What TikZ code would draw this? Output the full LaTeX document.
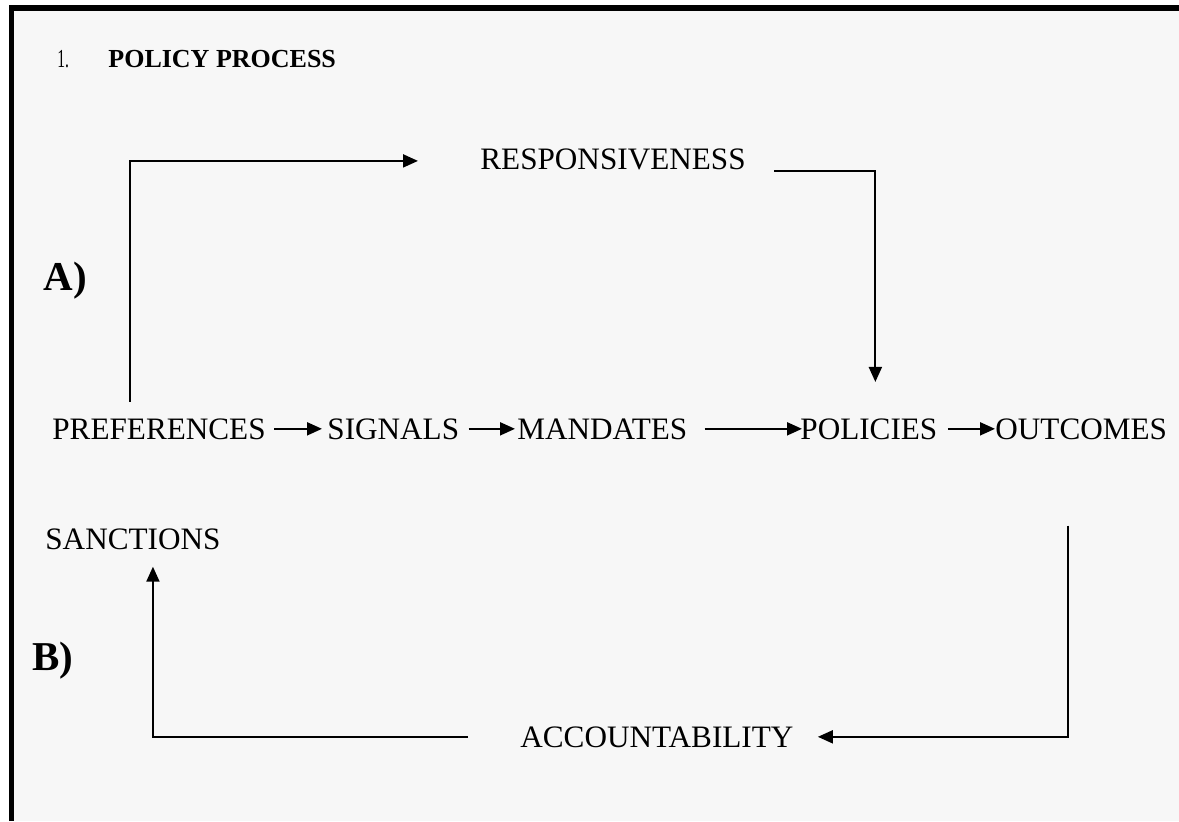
\documentclass[tikz,border=0pt]{standalone}
\usepackage{fontspec}
\setmainfont{Liberation Serif}
\usetikzlibrary{arrows.meta,positioning}
\definecolor{paper}{HTML}{F7F7F7}

\begin{document}
\begin{tikzpicture}[
x=0.5pt, y=-0.5pt,
Words/.style={anchor=base west, inner sep=0pt, font=\fontsize{15.6}{18}\selectfont},
Parts/.style={anchor=base west, inner sep=0pt, font=\fontsize{20.5}{24}\selectfont\bfseries},
Links/.style={-{Triangle[length=7.5pt,width=6.5pt]}, line width=1pt},
Frame/.style={line width=2.8pt}
]
\useasboundingbox (0,0) rectangle (1179,821);
\fill[white] (0,0) rectangle (1179,821);
\fill[paper] (10,6) rectangle (1179,821);

% frame, open at the right and at the bottom
\draw[Frame] (11.5,821) -- (11.5,8) -- (1179,8);

% heading
\node[anchor=base west, inner sep=0pt, font=\fontsize{13}{15}\selectfont] (num) at (57,67) {\scalebox{0.6}[1]{1.}};
\node[anchor=base west, inner sep=0pt, font=\fontsize{13}{15}\selectfont\bfseries] (title) at (108,67) {POLICY PROCESS};

\node[Parts] (partA) at (43,290) {A)};
\node[Parts] (partB) at (32,670) {B)};

% main chain
\node[Words] (pref) at (52,439) {PREFERENCES};
\node[Words] (sig)  at (327,439) {SIGNALS};
\node[Words] (mand) at (517,439) {MANDATES};
\node[Words] (pol)  at (800,439) {POLICIES};
\node[Words] (out)  at (995,439) {OUTCOMES};

\node[Words] (resp) at (480,169) {RESPONSIVENESS};
\node[Words] (sanc) at (45,549) {SANCTIONS};
\node[Words] (acc)  at (520,747) {ACCOUNTABILITY};

\draw[Links, shorten <=4pt, shorten >=2.5pt] (pref) -- (sig);
\draw[Links, shorten <=4.5pt, shorten >=1pt] (sig) -- (mand);
\draw[Links, shorten <=8.5pt, shorten >=-1pt] (mand) -- (pol);
\draw[Links, shorten <=5pt, shorten >=0pt] (pol) -- (out);

% A) loop
\draw[Links, shorten >=31pt] ([xshift=39pt,yshift=8pt]pref.north west) |- ([yshift=-1pt]resp.west);
\draw[Links, shorten >=18pt] ([xshift=14pt,yshift=-6pt]resp.east) -| ([xshift=3.25pt]pol.north);

% B) loop
\draw[Links, shorten >=12pt] ([xshift=-6.75pt,yshift=-43pt]out.south) |- (acc.east);
\draw[Links, shorten <=26pt] (acc.west) -| ([xshift=10pt,yshift=-8.5pt]sanc.south);

\end{tikzpicture}
\end{document}
